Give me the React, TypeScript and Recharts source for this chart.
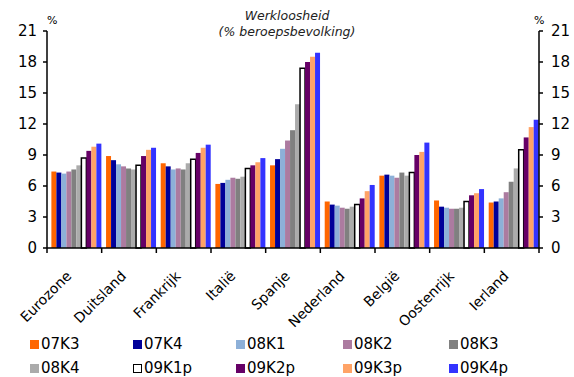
import React from 'react';
import { ComposedChart, Bar, Line, XAxis, YAxis } from 'recharts';

const countries = ['Eurozone', 'Duitsland', 'Frankrijk', 'Italië', 'Spanje', 'Nederland', 'België', 'Oostenrijk', 'Ierland'];

const q07K3 = [7.4, 8.9, 8.2, 6.2, 8.0, 4.5, 7.0, 4.6, 4.4];
const q07K4 = [7.3, 8.5, 7.9, 6.3, 8.6, 4.2, 7.1, 4.0, 4.5];
const q08K1 = [7.2, 8.1, 7.6, 6.6, 9.6, 4.1, 7.0, 3.9, 4.8];
const q08K2 = [7.4, 7.9, 7.7, 6.8, 10.4, 3.9, 6.8, 3.8, 5.4];
const q08K3 = [7.6, 7.7, 7.6, 6.7, 11.4, 3.8, 7.3, 3.8, 6.4];
const q08K4 = [8.0, 7.6, 8.2, 6.9, 13.9, 4.0, 7.0, 3.9, 7.7];
const q09K1p = [8.7, 8.0, 8.6, 7.7, 17.4, 4.2, 7.3, 4.5, 9.5];
const q09K2p = [9.4, 8.9, 9.2, 8.0, 18.0, 4.8, 9.0, 5.1, 10.7];
const q09K3p = [9.8, 9.5, 9.7, 8.3, 18.5, 5.5, 9.3, 5.3, 11.7];
const q09K4p = [10.1, 9.7, 10.0, 8.7, 18.9, 6.1, 10.2, 5.7, 12.4];

const yTicks = [0, 3, 6, 9, 12, 15, 18, 21];

const series = [
    { key: '07K3', values: q07K3, fill: '#FF6600' },
    { key: '07K4', values: q07K4, fill: '#000099' },
    { key: '08K1', values: q08K1, fill: '#8DB0D8' },
    { key: '08K2', values: q08K2, fill: '#AC7BA0' },
    { key: '08K3', values: q08K3, fill: '#808080' },
    { key: '08K4', values: q08K4, fill: '#ABABAB' },
    { key: '09K1p', values: q09K1p, fill: '#FFFFFF', stroke: '#000000' },
    { key: '09K2p', values: q09K2p, fill: '#660066' },
    { key: '09K3p', values: q09K3p, fill: '#FFA366' },
    { key: '09K4p', values: q09K4p, fill: '#3333FF' },
];

const data = countries.map((country, i) => {
    const row: Record<string, string | number> = { country };
    series.forEach((s) => {
        row[s.key] = s.values[i];
    });
    return row;
});

const FONT = '"DejaVu Sans", Verdana, sans-serif';

// category label rotated 45°, plus tick marks on the band edges
const CountryTick = (props: any) => {
    const { x, y, payload, index } = props;
    const half = payload?.offset ?? 27.3;
    const last = index === countries.length - 1;
    return (
        <g>
            <line x1={x - half} x2={x - half} y1={y - 5} y2={y} stroke="#000" strokeWidth={1.5} />
            {last && <line x1={x + half} x2={x + half} y1={y - 5} y2={y} stroke="#000" strokeWidth={1.5} />}
            <text
                x={0}
                y={0}
                transform={`translate(${x - 9},${y + 17}) rotate(-45)`}
                textAnchor="end"
                dy="0.7em"
                fontSize={14}
                fontFamily={FONT}
                fill="#000"
            >
                {payload.value}
            </text>
        </g>
    );
};

const Legend = () => (
    <div
        style={{
            position: 'absolute',
            left: 30,
            top: 335,
            display: 'grid',
            gridTemplateColumns: '103px 103px 107px 106px 106px',
            rowGap: 6,
            fontFamily: FONT,
            fontSize: 15,
            color: '#000',
        }}
    >
        {series.map((s) => (
            <div key={s.key} style={{ display: 'flex', alignItems: 'center', height: 18 }}>
                <span
                    style={{
                        display: 'inline-block',
                        width: s.stroke ? 7 : 9,
                        height: s.stroke ? 7 : 9,
                        background: s.fill,
                        border: s.stroke ? `1.5px solid ${s.stroke}` : 'none',
                        marginRight: 2,
                    }}
                />
                {s.key}
            </div>
        ))}
    </div>
);

export default function App() {
    return (
        <div style={{ position: 'absolute', left: 0, top: 0, width: 574, height: 377, background: '#fff' }}>
            <div
                style={{
                    position: 'absolute',
                    left: 0,
                    width: 574,
                    top: 8,
                    textAlign: 'center',
                    fontFamily: FONT,
                    fontSize: 12.5,
                    fontStyle: 'italic',
                    lineHeight: '16px',
                    color: '#222',
                }}
            >
                Werkloosheid
                <br />
                (% beroepsbevolking)
            </div>
            <div style={{ position: 'absolute', left: 47, top: 14, fontFamily: FONT, fontSize: 11 }}>%</div>
            <div style={{ position: 'absolute', left: 534, top: 14, fontFamily: FONT, fontSize: 11 }}>%</div>
            <ComposedChart
                width={574}
                height={377}
                data={data}
                margin={{ top: 31, right: 0, left: 0, bottom: 0 }}
                barCategoryGap="8%"
                barGap={0}
            >
                <XAxis
                    dataKey="country"
                    height={129}
                    interval={0}
                    tickLine={false}
                    tickSize={5}
                    tickMargin={0}
                    axisLine={{ stroke: '#000', strokeWidth: 1.5 }}
                    tick={<CountryTick />}
                />
                <YAxis
                    yAxisId="left"
                    width={47}
                    domain={[0, 21]}
                    ticks={yTicks}
                    interval={0}
                    tickSize={4}
                    tickMargin={6}
                    axisLine={{ stroke: '#000', strokeWidth: 1.5 }}
                    tickLine={{ stroke: '#000', strokeWidth: 1.5 }}
                    tick={{ fontSize: 15, fill: '#000', fontFamily: FONT }}
                />
                <YAxis
                    yAxisId="right"
                    orientation="right"
                    width={35}
                    domain={[0, 21]}
                    allowDataOverflow
                    ticks={yTicks}
                    interval={0}
                    tickSize={4}
                    tickMargin={8}
                    axisLine={{ stroke: '#000', strokeWidth: 1.5 }}
                    tickLine={{ stroke: '#000', strokeWidth: 1.5 }}
                    tick={{ fontSize: 15, fill: '#000', fontFamily: FONT }}
                />
                {series.map((s) => (
                    <Bar
                        key={s.key}
                        dataKey={s.key}
                        yAxisId="left"
                        fill={s.fill}
                        stroke={s.stroke}
                        strokeWidth={s.stroke ? 1.5 : 0}
                        isAnimationActive={false}
                    />
                ))}
                {/* keeps the right-hand axis bound to the same scale */}
                <Line
                    dataKey="09K4p"
                    yAxisId="right"
                    stroke="none"
                    dot={false}
                    activeDot={false}
                    legendType="none"
                    isAnimationActive={false}
                />
            </ComposedChart>
            <Legend />
        </div>
    );
}
